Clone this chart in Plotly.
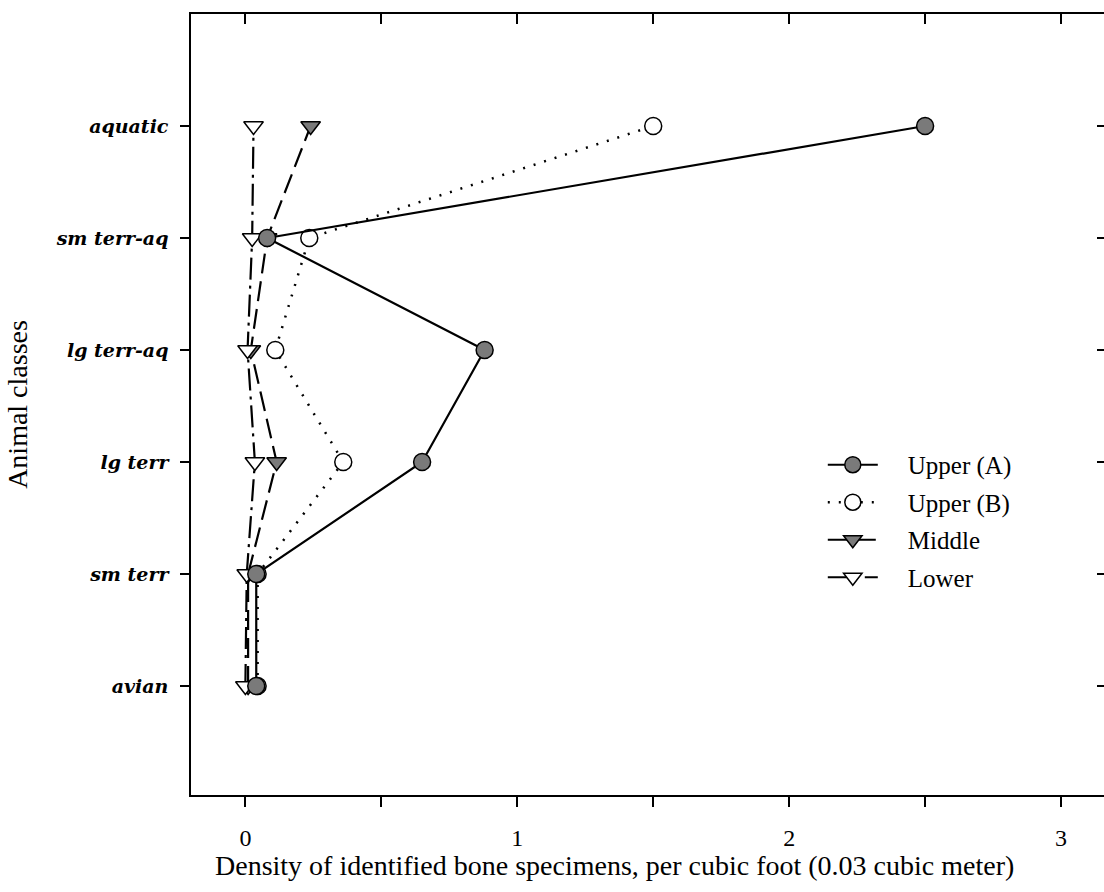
import plotly.graph_objects as go

categories = ["avian", "sm terr", "lg terr", "lg terr-aq", "sm terr-aq", "aquatic"]
upper_a = [0.04, 0.04, 0.65, 0.88, 0.08, 2.50]
upper_b = [0.045, 0.045, 0.36, 0.11, 0.235, 1.50]
middle = [0.01, 0.01, 0.115, 0.02, 0.08, 0.24]
lower = [0.0, 0.005, 0.035, 0.008, 0.025, 0.03]

x_tick_vals = [0, 0.5, 1, 1.5, 2, 2.5, 3]
x_tick_text = ["0", "", "1", "", "2", "", "3"]

FONT = "Liberation Serif, Times New Roman, serif"
YFONT = "DejaVu Serif, serif"
GRAY = "#7a7a7a"
PAD = "\u00a0" * 4

ypos = list(range(len(categories)))

fig = go.Figure()

fig.add_trace(go.Scatter(
    x=middle, y=ypos, name=PAD + "Middle", mode="lines+markers",
    line=dict(color="black", width=2.2, dash="20px,8px"),
    marker=dict(symbol="triangle-down", size=17, color=GRAY,
                line=dict(color="black", width=1.5)),
    legendrank=3, legendgroup="c"))
fig.add_trace(go.Scatter(
    x=lower, y=ypos, name=PAD + "Lower", mode="lines+markers",
    line=dict(color="black", width=2.2, dash="22px,6px,3px,6px"),
    marker=dict(symbol="triangle-down", size=17, color="white",
                line=dict(color="black", width=1.5)),
    legendrank=4, legendgroup="d"))
fig.add_trace(go.Scatter(
    x=upper_b, y=ypos, name=PAD + "Upper (B)", mode="lines+markers",
    line=dict(color="black", width=2.5, dash="2px,9px"),
    marker=dict(symbol="circle", size=17, color="white",
                line=dict(color="black", width=1.5)),
    legendrank=2, legendgroup="b"))
fig.add_trace(go.Scatter(
    x=upper_a, y=ypos, name=PAD + "Upper (A)", mode="lines+markers",
    line=dict(color="black", width=2.2),
    marker=dict(symbol="circle", size=17, color=GRAY,
                line=dict(color="black", width=1.5)),
    legendrank=1, legendgroup="a"))

# invisible trace to activate mirror axes
fig.add_trace(go.Scatter(x=[None], y=[None], xaxis="x2", yaxis="y2",
                         showlegend=False, hoverinfo="skip"))

xrange = [-0.2, 3.158]
yrange = [-0.973, 6.0]

fig.update_layout(
    width=1104, height=892,
    margin=dict(l=191, r=0, t=14, b=97),
    paper_bgcolor="white", plot_bgcolor="white",
    font=dict(family=FONT, color="black"),
    showlegend=True,
    legend=dict(x=0.692, y=0.452, xanchor="left", yanchor="top",
                bgcolor="rgba(0,0,0,0)", borderwidth=0,
                font=dict(family=FONT, size=25, color="black"),
                traceorder="grouped", tracegroupgap=2,
                itemwidth=50),
    xaxis=dict(range=xrange, showgrid=False, zeroline=False,
               showline=True, linecolor="black", linewidth=1.5,
               ticks="outside", ticklen=10, tickwidth=1.5, tickcolor="black",
               tickvals=x_tick_vals, ticktext=x_tick_text,
               tickfont=dict(family=FONT, size=24, color="black"),
               ticklabelstandoff=10),
    yaxis=dict(range=yrange, showgrid=False, zeroline=False,
               showline=True, linecolor="black", linewidth=1.5,
               ticks="outside", ticklen=9, tickwidth=1.5, tickcolor="black",
               tickvals=ypos, ticktext=["<b><i>%s</i></b>" % c for c in categories],
               tickfont=dict(family=YFONT, size=19, color="black"),
               ticklabelstandoff=8,
               title=dict(text="Animal classes",
                          font=dict(family=FONT, size=28, color="black"), standoff=20)),
    xaxis2=dict(range=xrange, overlaying="x", side="top", showgrid=False,
                zeroline=False, showline=True, linecolor="black", linewidth=1.5,
                ticks="inside", ticklen=10, tickwidth=1.5, tickcolor="black",
                tickvals=x_tick_vals, showticklabels=False),
    yaxis2=dict(range=yrange, overlaying="y", side="right", showgrid=False,
                zeroline=False, showline=False,
                ticks="inside", ticklen=7, tickwidth=1.5, tickcolor="black",
                tickvals=ypos, showticklabels=False),
    annotations=[dict(
        text="Density of identified bone specimens, per cubic foot (0.03 cubic meter)",
        xref="paper", yref="paper", x=0.464, y=-0.0909,
        xanchor="center", yanchor="middle", showarrow=False,
        font=dict(family=FONT, size=28, color="black"))],
)

fig.write_html("out.html", config={"displayModeBar": False},
               post_script="document.body.style.margin='0';document.body.style.overflow='hidden';")
